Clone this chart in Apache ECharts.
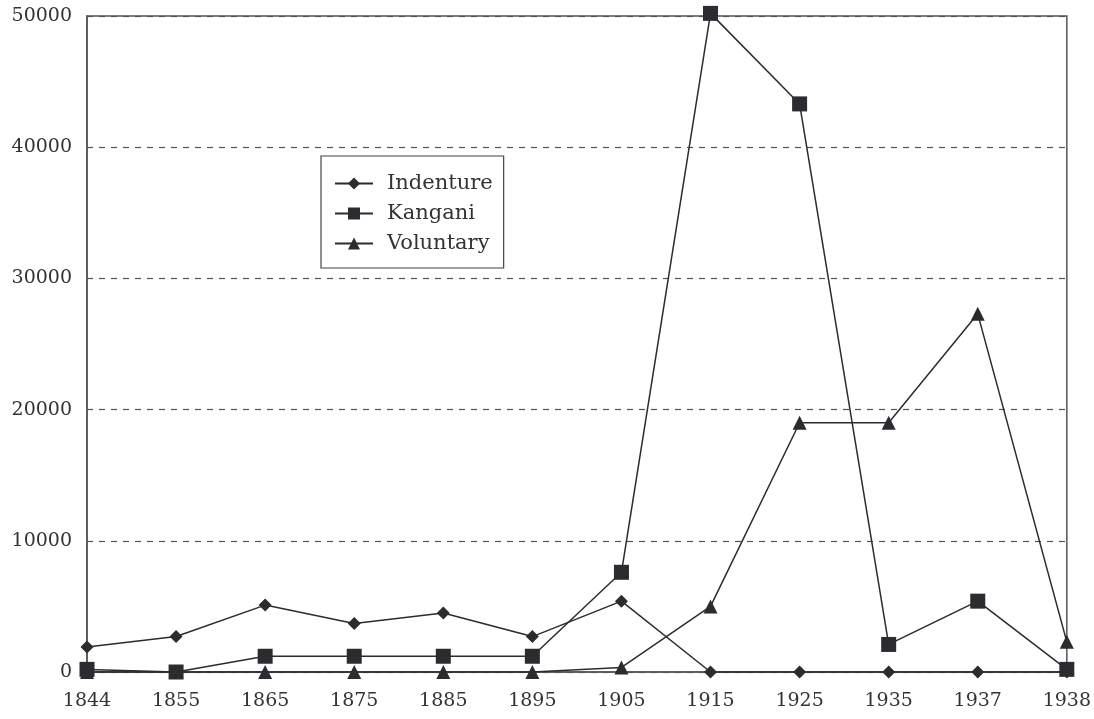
<!DOCTYPE html>
<html><head><meta charset="utf-8">
<script src="https://cdn.jsdelivr.net/npm/echarts@6/dist/echarts.min.js"></script>
<style>html,body{margin:0;padding:0;background:#fff}#c{width:1094px;height:719px}</style>
</head><body><div id="c"></div>
<script>
const years = ['1844','1855','1865','1875','1885','1895','1905','1915','1925','1935','1937','1938'];
const indenture = [1900, 2700, 5100, 3700, 4500, 2700, 5400, 0, 0, 0, 0, 0];
const kangani = [200, 0, 1200, 1200, 1200, 1200, 7600, 50200, 43300, 2100, 5400, 200];
const voluntary = [0, 0, 0, 0, 0, 0, 350, 5000, 19000, 19000, 27300, 2300];
const yTicks = [0, 10000, 20000, 30000, 40000, 50000];

const ink = '#2b2b30';
const font = 'DejaVu Serif';
const chart = echarts.init(document.getElementById('c'));
function mk(name, data, symbol, size, z) {
  return {name, type:'line', data, symbol, symbolSize:size, z, clip:false,
    lineStyle:{color:ink, width:1.5}, itemStyle:{color:ink}, animation:false};
}
chart.setOption({
  animation:false,
  grid:{left:87, right:26, top:16, bottom:47, show:true, borderColor:'#555', borderWidth:1.5},
  legend:{orient:'vertical', left:321, top:156, padding:[17,11,14,13], itemGap:9,
    itemWidth:38, itemHeight:15, borderColor:'#444', borderWidth:1.2,
    textStyle:{fontFamily:font, fontSize:21, color:'#333', padding:[0,0,0,9]},
    data:['Indenture','Kangani','Voluntary']},
  xAxis:{type:'category', data:years, boundaryGap:false,
    axisLine:{lineStyle:{color:'#555', width:1.5}}, axisTick:{show:false},
    axisLabel:{fontFamily:font, fontSize:19, color:'#333', margin:20}},
  yAxis:{type:'value', min:0, max:50000, interval:10000,
    axisLine:{show:true, lineStyle:{color:'#555', width:1.5}}, axisTick:{show:false},
    axisLabel:{fontFamily:font, fontSize:19, color:'#333', margin:15,
      formatter:v => yTicks.includes(v) ? String(v) : ''},
    splitLine:{show:true, lineStyle:{color:'#555', type:[6,6], width:1.2}}},
  series:[
    mk('Indenture', indenture, 'diamond', 13, 3),
    mk('Voluntary', voluntary, 'triangle', 14, 2),
    mk('Kangani', kangani, 'rect', 15, 4)
  ]
});
</script></body></html>
